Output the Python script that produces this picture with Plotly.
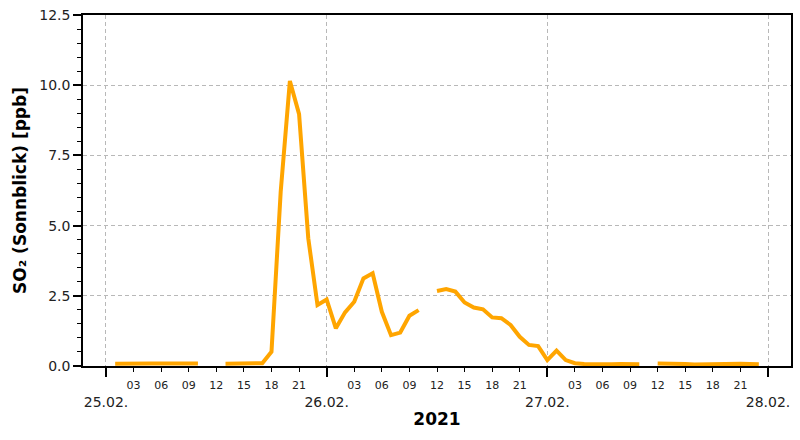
import pandas as pd
import plotly.graph_objects as go

# hourly SO2 values, 25.02.2021 01:00 .. 27.02.2021 23:00 (None = missing)
day25 = [0.08, 0.09, 0.07, 0.08, 0.09, 0.09, 0.08, 0.07, 0.09, 0.09,  # 01-10
         None, None,                                                  # 11-12
         0.08, 0.09, 0.09, 0.08, 0.10,                                # 13-17
         0.51, 6.2, 10.15, 8.97, 4.55, 2.17]                          # 18-23
day26 = [2.37, 1.34, 1.91, 2.29, 3.12, 3.30, 1.93, 1.10, 1.19, 1.79, 1.99,  # 00-10
         None,                                                              # 11
         2.67, 2.74, 2.65, 2.26, 2.08, 2.02, 1.73, 1.70, 1.46, 1.04, 0.75, 0.71]  # 12-23
day27 = [0.21, 0.55, 0.21, 0.10, 0.07, 0.06, 0.06, 0.06, 0.07, 0.07, 0.06,  # 00-10
         None,                                                              # 11
         0.09, 0.09, 0.08, 0.07, 0.05, 0.06, 0.07, 0.08, 0.08, 0.08, 0.07, 0.06]  # 12-23
so2 = day25 + day26 + day27
times = pd.date_range("2021-02-25 01:00", periods=len(so2), freq="h")

day_ticks = ["2021-02-25", "2021-02-26", "2021-02-27", "2021-02-28"]
day_labels = ["25.02.", "26.02.", "27.02.", "28.02."]
hour_labels = ["03", "06", "09", "12", "15", "18", "21"]
hour_ticks = [pd.Timestamp(d) + pd.Timedelta(hours=int(h)) for d in day_ticks[:3] for h in hour_labels]
hour_text = [h for d in day_ticks[:3] for h in hour_labels]

x_range = ["2021-02-24 21:30", "2021-02-28 02:30"]
y_ticks = [0, 2.5, 5.0, 7.5, 10.0, 12.5]

FONT = "DejaVu Sans"
GRID = "#b8b8b8"

fig = go.Figure()
fig.add_trace(go.Scatter(x=times, y=so2, mode="lines",
                         line=dict(color="#FFA500", width=4),
                         connectgaps=False, showlegend=False, xaxis="x", yaxis="y"))
# invisible helper trace for hour-label axis
fig.add_trace(go.Scatter(x=[times[0]], y=[None], mode="lines", showlegend=False,
                         xaxis="x2", yaxis="y", hoverinfo="skip"))

fig.update_layout(
    width=800, height=440,
    margin=dict(l=83, r=9, t=15, b=74),
    plot_bgcolor="white", paper_bgcolor="white",
    font=dict(family=FONT, color="#222"),
    xaxis=dict(
        type="date", range=x_range, automargin=False,
        tickvals=day_ticks, ticktext=day_labels,
        ticks="outside", ticklen=9, tickwidth=2, tickcolor="black",
        tickfont=dict(size=14, family=FONT, color="#222"),
        ticklabelstandoff=13,
        showgrid=True, gridcolor=GRID, griddash="4px,3px", gridwidth=1,
        showline=True, linecolor="black", linewidth=1.5, mirror=True,
        zeroline=False,
        title=dict(text="<b>2021</b>", font=dict(size=17, family=FONT, color="black"), standoff=5),
    ),
    xaxis2=dict(
        type="date", range=x_range, overlaying="x", anchor="y", side="bottom", automargin=False,
        tickvals=hour_ticks, ticktext=hour_text,
        ticks="outside", ticklen=5, tickwidth=1, tickcolor="black",
        tickfont=dict(size=11, family=FONT, color="#222"),
        ticklabelstandoff=4,
        showgrid=False, showline=False, zeroline=False,
    ),
    yaxis=dict(
        range=[0, 12.5], tickvals=y_ticks, tickformat=".1f", automargin=False,
        ticks="outside", ticklen=8, tickwidth=1.5, tickcolor="black",
        tickfont=dict(size=14, family=FONT, color="#222"),
        minor=dict(dtick=0.5, ticks="outside", ticklen=4, tickwidth=1, tickcolor="black", showgrid=False),
        showgrid=True, gridcolor=GRID, griddash="4px,3px", gridwidth=1,
        showline=True, linecolor="black", linewidth=1.5, mirror=True,
        zeroline=False,
        title=dict(text="<b>SO₂ (Sonnblick) [ppb]</b>", font=dict(size=17, family=FONT, color="black"), standoff=8),
    ),
)

fig.write_html("out.html", config={"displayModeBar": False},
               post_script="document.body.style.margin='0';document.body.style.padding='0';")
